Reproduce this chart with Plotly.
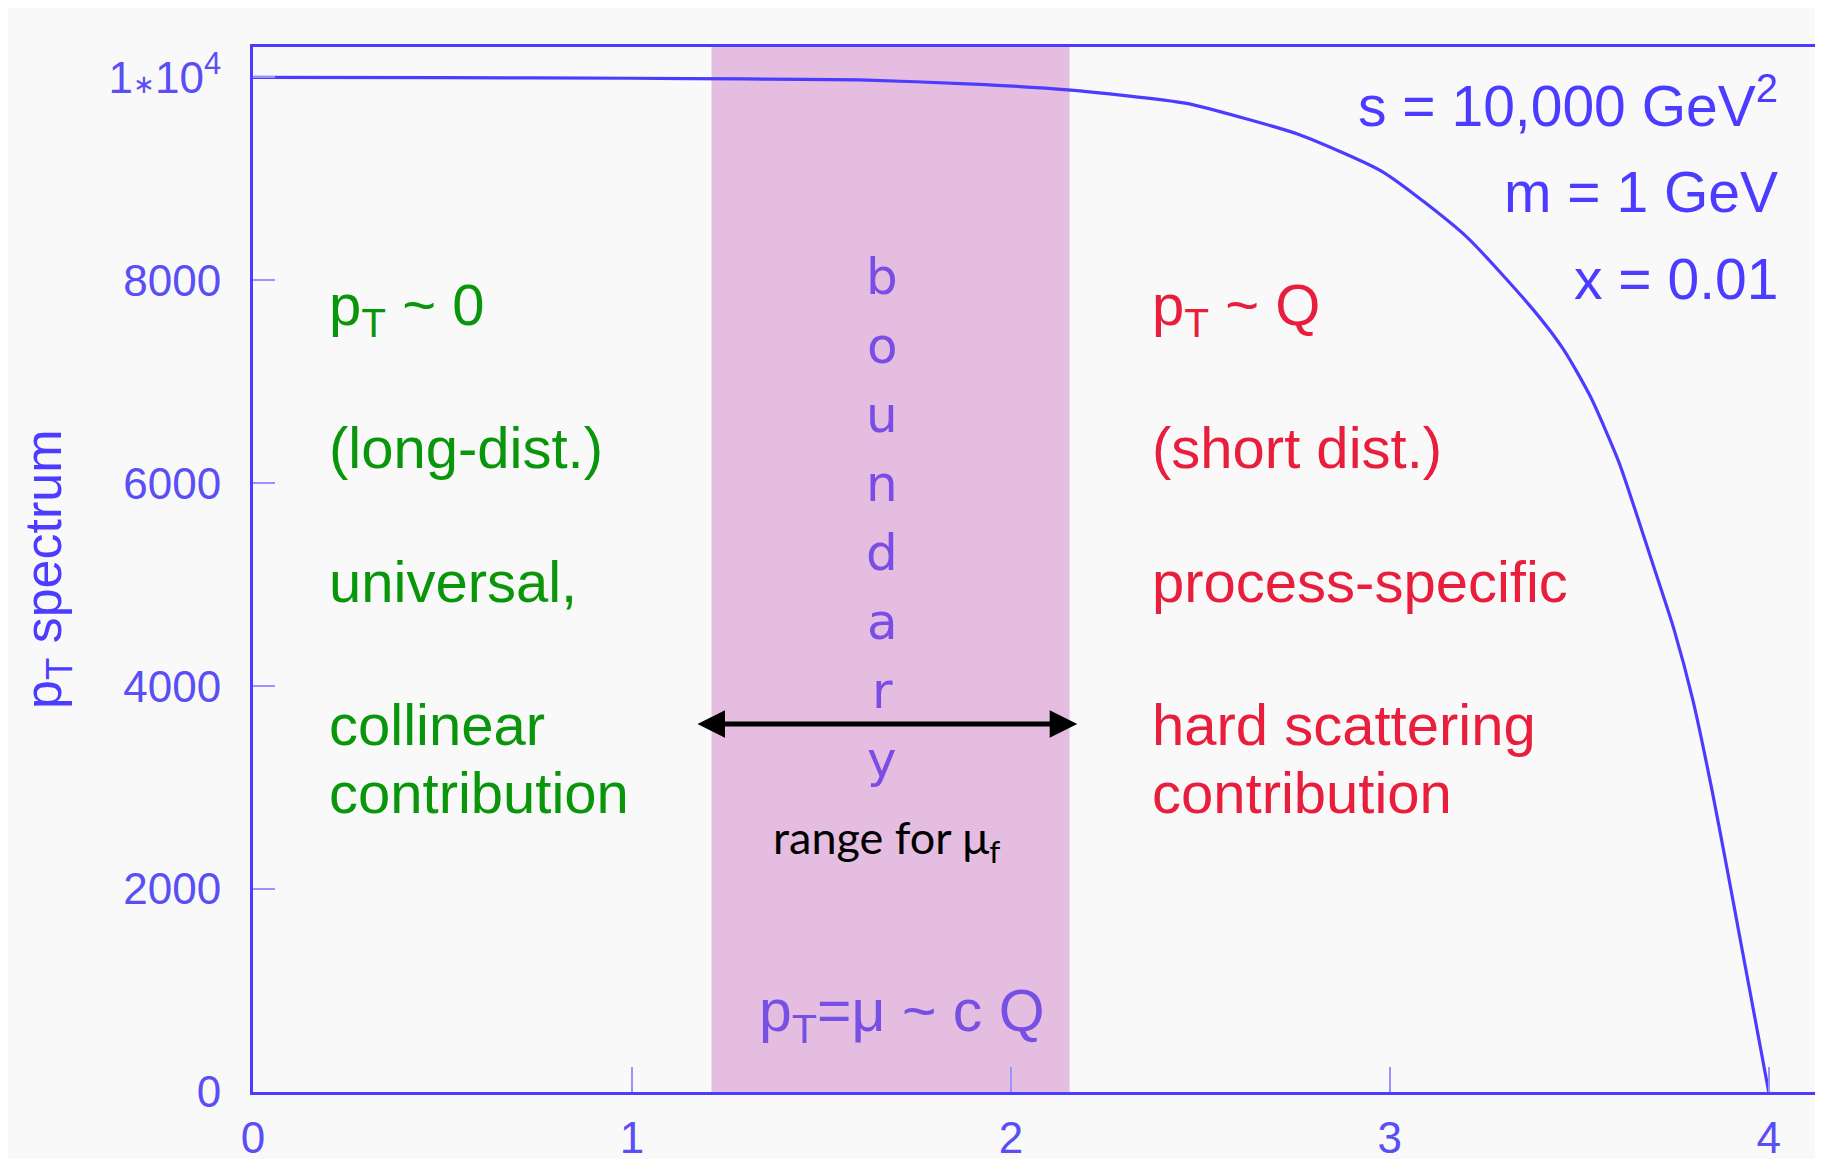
import plotly.graph_objects as go

# pT spectrum
pt = [0, 0.5, 1.0, 1.3, 1.6, 1.9, 2.15, 2.46, 2.63, 2.76, 2.98, 3.20, 3.38,
      3.46, 3.53, 3.605, 3.69, 3.75, 3.80, 3.85, 3.89, 3.92, 3.95, 3.97, 3.99, 4.0]
spectrum = [10000, 9998, 9992, 9985, 9975, 9935, 9878, 9747, 9583, 9438, 9072,
            8438, 7704, 7310, 6850, 6204, 5250, 4560, 3860, 2980, 2200, 1600,
            1000, 600, 200, 0]

x_ticks = [0, 1, 2, 3, 4]
y_ticks = [0, 2000, 4000, 6000, 8000, 10000]
y_tick_text = ["0", "2000", "4000", "6000", "8000",
               "1<span style='font-size:26px'>∗</span>10<sup>4</sup>"]

band = [1.21, 2.155]          # boundary region for mu_f
arrow_y = 3626

left_text = ["p<sub>T</sub> ~ 0", "(long-dist.)", "universal,", "collinear", "contribution"]
right_text = ["p<sub>T</sub> ~ Q", "(short dist.)", "process-specific", "hard scattering", "contribution"]
text_rows = [7720, 6352, 5034, 3623, 2950]
params = ["s = 10,000 GeV<sup>2</sup>", "m = 1 GeV", "x = 0.01"]
param_rows = [9760, 8875, 8015]
boundary = list("boundary")

BLUE = "#4c3cff"
TICK_BLUE = "#5a4ef5"
GREEN = "#0a960a"
RED = "#e81e3c"
PURPLE = "#7a4ee6"
SANS = "Liberation Sans, Arial, sans-serif"

fig = go.Figure()

fig.add_shape(type="rect", xref="x", yref="paper", x0=band[0], x1=band[1], y0=0, y1=1,
              fillcolor="#e4bde0", line=dict(width=0), layer="below")

fig.add_trace(go.Scatter(x=pt, y=spectrum, mode="lines",
                         line=dict(color=BLUE, width=3.2, shape="spline", smoothing=0.6),
                         showlegend=False))

ann = []
for t, yv in zip(left_text, text_rows):
    ann.append(dict(x=0.195, y=yv, text=t, xanchor="left", yanchor="middle",
                    font=dict(family=SANS, size=58, color=GREEN)))
for t, yv in zip(right_text, text_rows):
    ann.append(dict(x=2.368, y=yv, text=t, xanchor="left", yanchor="middle",
                    font=dict(family=SANS, size=58, color=RED)))
for t, yv in zip(params, param_rows):
    ann.append(dict(x=4.029, y=yv, text=t, xanchor="right", yanchor="middle",
                    font=dict(family=SANS, size=57, color=BLUE)))
for i, ch in enumerate(boundary):
    ann.append(dict(x=1.66, y=8029 - 680 * i, text=ch, xanchor="center", yanchor="middle",
                    font=dict(family="DejaVu Sans", size=50, color=PURPLE)))

ann.append(dict(x=1.672, y=2480, text="range for μ<sub>f</sub>", xanchor="center", yanchor="middle",
                font=dict(family="Lato", size=45, color="black")))
ann.append(dict(x=1.712, y=760, text="p<sub>T</sub>=μ ~ c Q", xanchor="center", yanchor="middle",
                font=dict(family=SANS, size=59, color="#7650e4")))

# double headed arrow
ann.append(dict(x=2.175, y=arrow_y, ax=1.169, ay=arrow_y, axref="x", ayref="y",
                text="", showarrow=True, arrowside="end+start", arrowhead=2,
                arrowsize=1.1, arrowwidth=5, arrowcolor="black"))

# y axis title
ann.append(dict(xref="paper", yref="paper", x=-0.132, y=0.5, text="p<sub>T</sub> spectrum",
                textangle=-90, showarrow=False, xanchor="center", yanchor="middle",
                font=dict(family=SANS, size=52, color=BLUE)))

for a in ann:
    a.setdefault("showarrow", False)

fig.update_layout(
    width=1823, height=1159,
    margin=dict(l=245, r=13, t=39, b=75, autoexpand=False),
    paper_bgcolor="#f9f9f9", plot_bgcolor="#f9f9f9",
    annotations=ann,
    showlegend=False,
)

fig.update_xaxes(range=[0, 4.13], tickvals=x_ticks, showgrid=False, zeroline=False,
                 showline=True, linecolor=BLUE, linewidth=3, mirror=True,
                 ticks="inside", ticklen=25, tickwidth=2, tickcolor="#9a92ff",
                 ticklabelstandoff=5, automargin=False,
                 tickfont=dict(family=SANS, size=44, color=TICK_BLUE))
fig.update_yaxes(range=[0, 10300], tickvals=y_ticks, ticktext=y_tick_text, showgrid=False,
                 zeroline=False, showline=True, linecolor=BLUE, linewidth=3, mirror=True,
                 ticks="inside", ticklen=22, tickwidth=2, tickcolor="#9a92ff",
                 ticklabelstandoff=20, automargin=False,
                 tickfont=dict(family=SANS, size=44, color=TICK_BLUE))

fig.write_html("out.html")
